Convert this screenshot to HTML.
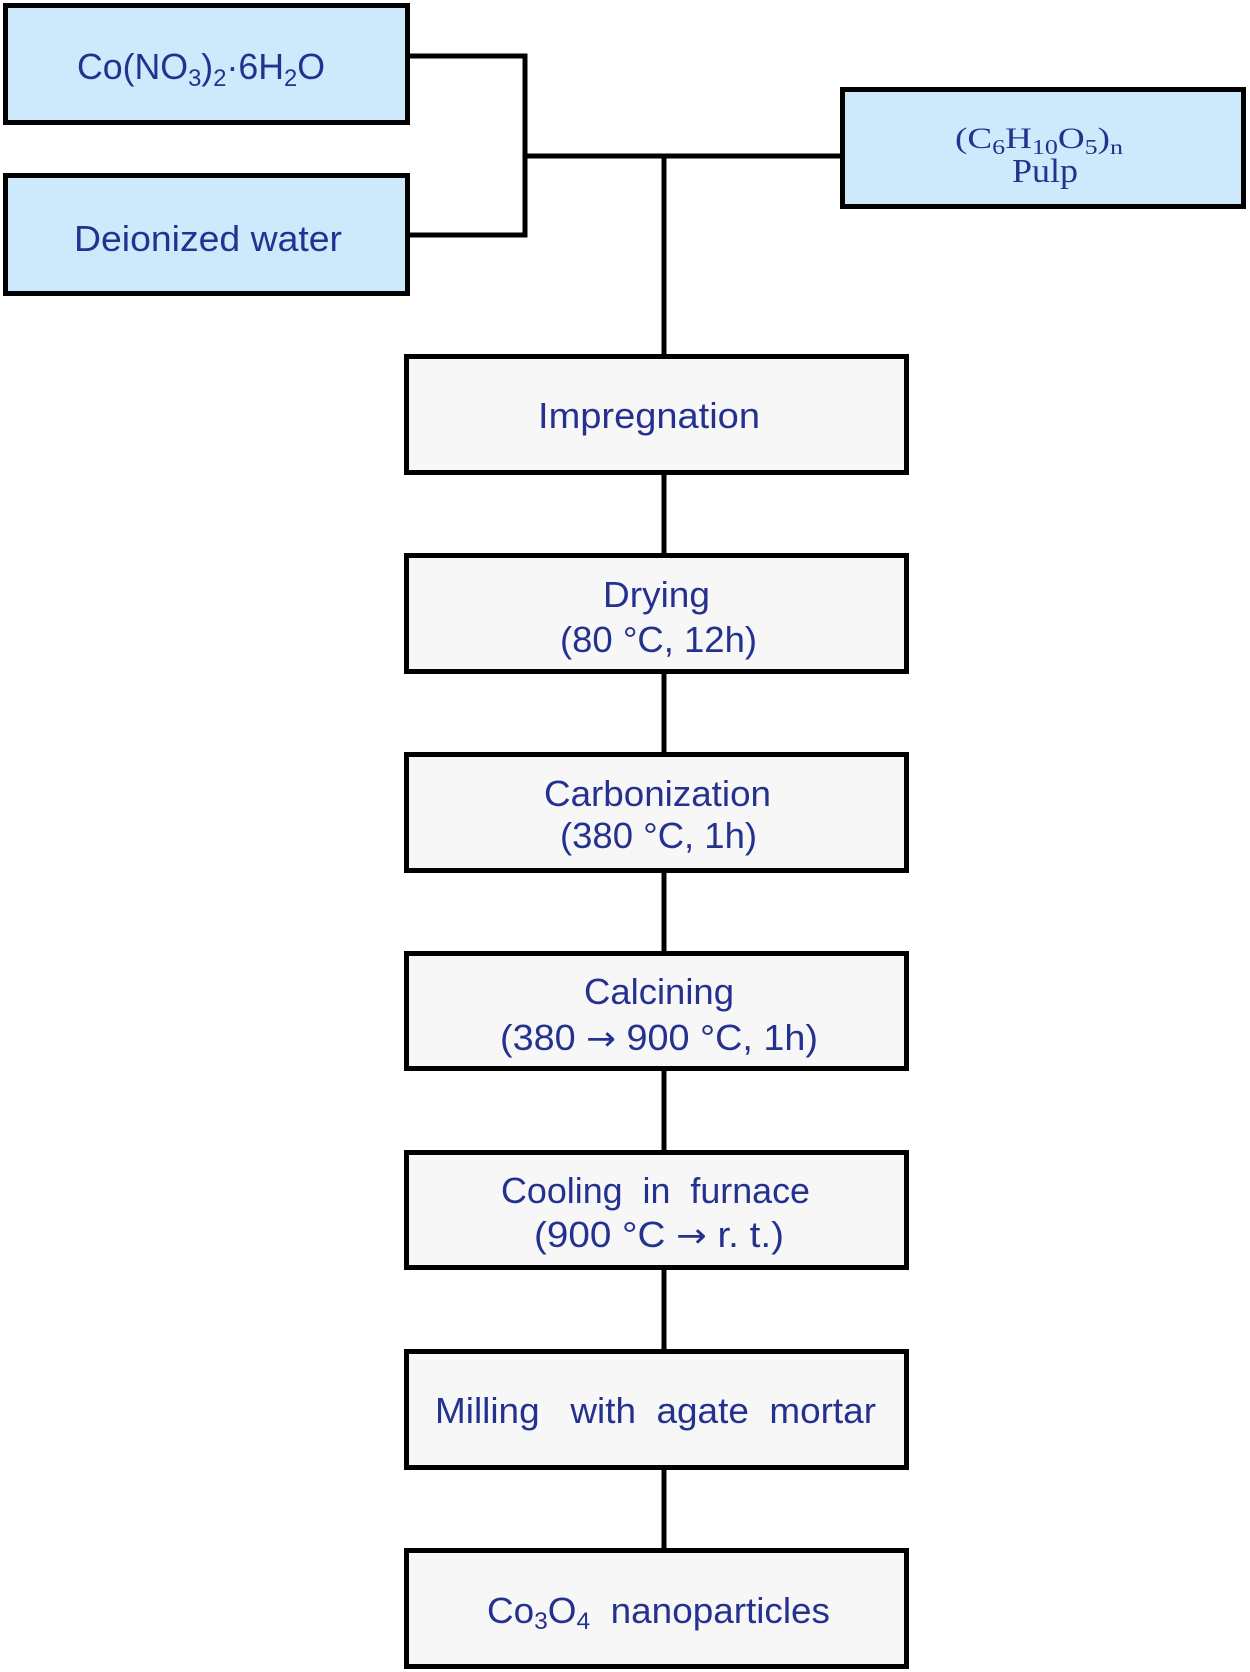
<!DOCTYPE html>
<html>
<head>
<meta charset="utf-8">
<style>
  html, body { margin: 0; padding: 0; background: #ffffff; }
  body { width: 1250px; height: 1672px; overflow: hidden; }
  svg { display: block; }
  .t { font-family: "Liberation Sans", "DejaVu Sans", sans-serif; font-size: 36px; fill: #25318f; white-space: pre; }
  .s { font-family: "Liberation Serif", "DejaVu Serif", serif; fill: #25318f; white-space: pre; }
  .sub { font-size: 24px; }
  .ar { font-family: "DejaVu Sans", sans-serif; font-size: 34px; }
</style>
</head>
<body>
<svg width="1250" height="1672" viewBox="0 0 1250 1672" xmlns="http://www.w3.org/2000/svg">
  <!-- connectors -->
  <g stroke="#000" stroke-width="5" fill="none" stroke-linecap="square">
    <line x1="410" y1="56" x2="525" y2="56"/>
    <line x1="410" y1="235" x2="525" y2="235"/>
    <line x1="525" y1="56" x2="525" y2="235"/>
    <line x1="525" y1="156" x2="842" y2="156"/>
    <line x1="664" y1="156" x2="664" y2="356"/>
    <line x1="664" y1="475" x2="664" y2="555"/>
    <line x1="664" y1="674" x2="664" y2="754"/>
    <line x1="664" y1="873" x2="664" y2="953"/>
    <line x1="664" y1="1071" x2="664" y2="1152"/>
    <line x1="664" y1="1270" x2="664" y2="1351"/>
    <line x1="664" y1="1470" x2="664" y2="1550"/>
  </g>

  <!-- top input boxes -->
  <g stroke="#000" stroke-width="5" fill="#cdeafc">
    <rect x="5.5" y="5.5" width="402" height="117"/>
    <rect x="5.5" y="175.5" width="402" height="118"/>
    <rect x="842.5" y="89.5" width="401" height="117"/>
  </g>

  <!-- process boxes -->
  <g stroke="#000" stroke-width="5" fill="#f7f7f7">
    <rect x="406.5" y="356.5" width="500" height="116"/>
    <rect x="406.5" y="555.5" width="500" height="116"/>
    <rect x="406.5" y="754.5" width="500" height="116"/>
    <rect x="406.5" y="953.5" width="500" height="115"/>
    <rect x="406.5" y="1152.5" width="500" height="115"/>
    <rect x="406.5" y="1351.5" width="500" height="116"/>
    <rect x="406.5" y="1550.5" width="500" height="116"/>
  </g>

  <!-- top labels -->
  <text class="t" x="77" y="79" textLength="248" lengthAdjust="spacingAndGlyphs">Co(NO<tspan class="sub" dy="7">3</tspan><tspan dy="-7">)</tspan><tspan class="sub" dy="7">2</tspan><tspan dy="-7">·6H</tspan><tspan class="sub" dy="7">2</tspan><tspan dy="-7">O</tspan></text>
  <text class="t" x="74" y="251" textLength="268" lengthAdjust="spacingAndGlyphs">Deionized water</text>

  <text class="s" x="955" y="148" font-size="30" textLength="168" lengthAdjust="spacingAndGlyphs">(C<tspan font-size="21" dy="6">6</tspan><tspan dy="-6">H</tspan><tspan font-size="21" dy="6">10</tspan><tspan dy="-6">O</tspan><tspan font-size="21" dy="6">5</tspan><tspan dy="-6">)</tspan><tspan font-size="21" dy="6">n</tspan></text>
  <text class="s" x="1012" y="182" font-size="34" textLength="66" lengthAdjust="spacingAndGlyphs">Pulp</text>

  <!-- process labels -->
  <text class="t" x="538" y="428" textLength="222" lengthAdjust="spacingAndGlyphs">Impregnation</text>

  <text class="t" x="603" y="607" textLength="107" lengthAdjust="spacingAndGlyphs">Drying</text>
  <text class="t" x="560" y="652" textLength="197" lengthAdjust="spacingAndGlyphs">(80 °C, 12h)</text>

  <text class="t" x="544" y="806" textLength="227" lengthAdjust="spacingAndGlyphs">Carbonization</text>
  <text class="t" x="560" y="848" textLength="197" lengthAdjust="spacingAndGlyphs">(380 °C, 1h)</text>

  <text class="t" x="584" y="1004" textLength="150" lengthAdjust="spacingAndGlyphs">Calcining</text>
  <text class="t" x="500" y="1050" textLength="318" lengthAdjust="spacingAndGlyphs">(380 <tspan class="ar">→</tspan> 900 °C, 1h)</text>

  <text class="t" x="501" y="1203" textLength="309" lengthAdjust="spacingAndGlyphs">Cooling  in  furnace</text>
  <text class="t" x="534" y="1247" textLength="250" lengthAdjust="spacingAndGlyphs">(900 °C <tspan class="ar">→</tspan> r. t.)</text>

  <text class="t" x="435" y="1423" textLength="441" lengthAdjust="spacingAndGlyphs">Milling   with  agate  mortar</text>

  <text class="t" x="487" y="1623" textLength="343" lengthAdjust="spacingAndGlyphs">Co<tspan class="sub" dy="6">3</tspan><tspan dy="-6">O</tspan><tspan class="sub" dy="6">4</tspan><tspan dy="-6">  nanoparticles</tspan></text>
</svg>
</body>
</html>
